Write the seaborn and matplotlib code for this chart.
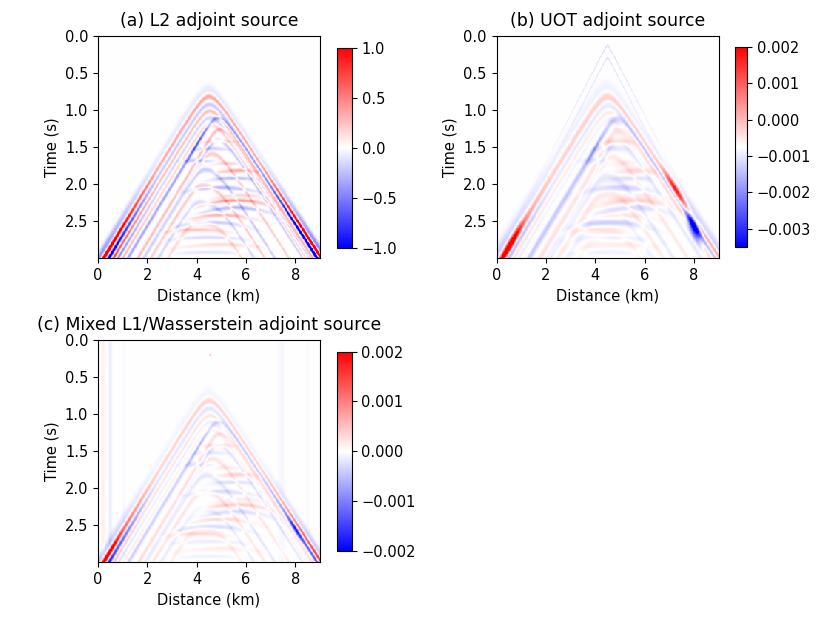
import numpy as np
import pandas as pd
import matplotlib
matplotlib.use("Agg")
import matplotlib.pyplot as plt
import seaborn as sns

# ---------------- grid (cell centres) ----------------
distance_km = np.round(np.arange(300) * 0.03 + 0.015, 3)
time_s = np.round(np.arange(300) * 0.01 + 0.005, 3)

x_ticks = [0, 2, 4, 6, 8]
t_ticks = [0.0, 0.5, 1.0, 1.5, 2.0, 2.5]
titles = ["(a) L2 adjoint source", "(b) UOT adjoint source",
          "(c) Mixed L1/Wasserstein adjoint source"]

# ---------------- first-arrival front ----------------
front_x = 4.5
front_c = 0.62
front_h = 0.20
front_v_left = 1.80
front_v_right = 1.92

# chevron events parallel to the front (shared geometry)
chev_shift = [-0.09, 0.00, 0.09, 0.17, 0.25, 0.33, 0.27, 0.42, 0.55, 0.68, 0.82, 0.98, 1.15, 1.35]
chev_width = [0.06, 0.032, 0.030, 0.025, 0.025, 0.025, 0.03, 0.03, 0.03, 0.03, 0.03, 0.03, 0.03, 0.035]
chev_dx = [0.0, 0.0, 0.0, 0.0, 0.0, 0.0, 0.35, 0.4, 0.3, 0.0, -0.3, -0.4, -0.5, -0.6]

# amplitudes near apex / at far left / at far right
a_apex = [-0.08, 0.35, -0.20, 0.25, -0.15, 0.15, -0.35, 0.25, -0.20, 0.20, -0.20, 0.20, -0.15, 0.15]
a_left = [-0.40, 1.80, -1.50, 1.00, -0.70, 0.45, -0.35, 0.30, -0.25, 0.25, -0.20, 0.20, -0.15, 0.15]
a_right = [-0.45, 1.80, -1.80, 0.25, -0.20, 0.15, -0.30, 0.20, -0.15, 0.15, -0.15, 0.15, -0.10, 0.10]

b_apex = [-0.15, 0.55, -0.25, 0.20, -0.10, 0.10, -0.60, 0.30, -0.25, 0.25, -0.25, 0.25, -0.15, 0.15]
b_left = [-0.60, 2.00, -1.20, 0.50, -0.30, 0.20, -0.60, 0.50, -0.35, 0.35, -0.25, 0.25, -0.15, 0.15]
b_right = [-0.50, 1.10, -0.40, 0.20, -0.10, 0.10, -0.40, 0.25, -0.20, 0.20, -0.15, 0.15, -0.10, 0.10]

c_apex = [-0.08, 0.35, -0.20, 0.20, -0.10, 0.10, -0.35, 0.25, -0.20, 0.20, -0.20, 0.20, -0.15, 0.15]
c_left = [-0.45, 2.20, -2.00, 0.60, -0.30, 0.20, -0.40, 0.35, -0.25, 0.25, -0.20, 0.20, -0.15, 0.15]
c_right = [-0.40, 1.60, -1.20, 0.20, -0.10, 0.10, -0.30, 0.20, -0.15, 0.15, -0.15, 0.15, -0.10, 0.10]

# strong patches that follow a chevron (shift, apex dx, x centre, x sigma, t sigma, amplitude)
a_patch_shift = [0.27]
a_patch_dx = [0.35]
a_patch_x = [4.0]
a_patch_sx = [0.35]
a_patch_st = [0.03]
a_patch_amp = [-0.35]

b_patch_shift = [0.00, 0.00, 0.13, 0.27]
b_patch_dx = [0.0, 0.0, 0.0, 0.35]
b_patch_x = [0.55, 7.25, 8.00, 3.95]
b_patch_sx = [0.45, 0.40, 0.26, 0.30]
b_patch_st = [0.09, 0.07, 0.12, 0.04]
b_patch_amp = [2.4, 2.0, -3.2, -0.6]

c_patch_shift = [0.00, 0.11, 0.27]
c_patch_dx = [0.0, 0.0, 0.35]
c_patch_x = [0.50, 8.00, 4.0]
c_patch_sx = [0.30, 0.30, 0.35]
c_patch_st = [0.06, 0.06, 0.03]
c_patch_amp = [0.8, -1.0, -0.25]

# interior reflections (shared geometry)
refl_t0 = [1.42, 1.52, 1.82, 1.92, 2.05, 2.15, 2.22, 2.32, 2.42, 2.52, 2.62, 2.72, 2.82, 2.92, 1.68, 1.72]
refl_xc = [4.9, 4.6, 5.7, 5.5, 5.0, 5.8, 5.6, 5.6, 5.0, 4.6, 4.0, 4.5, 5.0, 4.5, 4.0, 5.2]
refl_v = [3.0, 3.0, 3.0, 3.0, 3.0, 2.4, 2.4, 2.4, 2.6, 2.6, 3.2, 3.5, 3.5, 3.5, 3.0, 3.0]
refl_sx = [0.6, 0.7, 0.8, 0.9, 1.3, 1.2, 1.3, 1.3, 1.2, 1.4, 1.2, 1.5, 1.5, 1.5, 0.6, 0.5]
refl_w = 0.025
refl_amp_a = [0.20, -0.20, 0.35, -0.25, -0.30, 0.15, 0.40, -0.30, 0.30, -0.22, 0.22, -0.15, 0.15, -0.10, -0.25, 0.20]
refl_amp_b = [0.55, -0.30, 0.45, -0.35, -0.50, 0.20, 0.55, -0.40, 0.30, -0.55, 0.30, -0.25, 0.20, -0.15, -0.30, 0.25]
refl_amp_c = [0.30, -0.20, 0.35, -0.25, -0.30, 0.15, 0.40, -0.30, 0.30, -0.30, 0.25, -0.15, 0.15, -0.10, -0.25, 0.20]

# direct wave (panel b)
direct_c = 0.10
direct_h = 0.03
direct_v = 1.55
direct_shift = [0.0, 0.17]
direct_w = 0.02
direct_apex = [-0.35, -0.30]
direct_far = [-0.05, -0.05]

# panel c: faint vertical stripes and a dot
stripe_x = [0.22, 0.5, 1.05, 7.45, 8.5]
stripe_w = [0.08, 0.07, 0.05, 0.15, 0.08]
stripe_amp = [0.13, -0.16, -0.05, -0.07, -0.05]
dot_x, dot_t, dot_amp = 4.55, 0.20, 0.5

# per-panel settings
scales = [1.0, 1e-3, 1e-3]
baselines = [0.0, -0.75e-3, 0.0]
width_scale = [1.0, 1.6, 1.15]
left_stretch = [1.3, 1.5, 1.35]
vmins = [-1.0, -0.0035, -0.002]
vmaxs = [1.0, 0.002, 0.002]
cbar_ticks = [[-1.0, -0.5, 0.0, 0.5, 1.0],
              [-0.003, -0.002, -0.001, 0.0, 0.001, 0.002],
              [-0.002, -0.001, 0.0, 0.001, 0.002]]

# ---------------- build fields ----------------
T, X = np.meshgrid(time_s, distance_km, indexing="ij")


def front_time(xs, shift):
    off = np.abs(X - xs)
    v = np.where(X < xs, front_v_left, front_v_right)
    return front_c + shift + np.sqrt(front_h ** 2 + (off / v) ** 2)


t_env = front_time(front_x, 0.0)
inside = np.clip((T - t_env - 0.05) / 0.08, 0, 1)
w_left = 1.0 / (1.0 + np.exp((X - front_x) / 0.3))


def build(apex, left, right, refl_amp, wscale, lstretch, patches):
    stretch = 1 + (lstretch - 1) * w_left
    f = np.zeros_like(T)
    for k in range(len(chev_shift)):
        xs = front_x + chev_dx[k]
        tc = front_time(xs, chev_shift[k] * stretch)
        off = np.abs(X - xs)
        ramp = np.clip((off - 2.0) / 2.3, 0, 1) ** 1.5
        aside = np.where(X < xs, left[k], right[k])
        amp = apex[k] + (aside - apex[k]) * ramp
        band = amp * np.exp(-((T - tc) / (chev_width[k] * stretch * wscale)) ** 2)
        if chev_dx[k] != 0:
            band = band * inside
        f += band
    for t0, xc, vr, sx, a in zip(refl_t0, refl_xc, refl_v, refl_sx, refl_amp):
        tr = np.sqrt(t0 ** 2 + ((X - xc) / vr) ** 2)
        f += a * np.exp(-((T - tr) / (refl_w * wscale)) ** 2) * np.exp(-((X - xc) / sx) ** 2) * inside
    for ps, pdx, px, psx, pst, pa in zip(*patches):
        tp = front_time(front_x + pdx, ps * stretch)
        f += pa * np.exp(-((X - px) / psx) ** 2) * np.exp(-((T - tp) / pst) ** 2)
    return f


fields = []
fa = build(a_apex, a_left, a_right, refl_amp_a, width_scale[0], left_stretch[0],
           (a_patch_shift, a_patch_dx, a_patch_x, a_patch_sx, a_patch_st, a_patch_amp))
fields.append(fa)

fb = build(b_apex, b_left, b_right, refl_amp_b, width_scale[1], left_stretch[1],
           (b_patch_shift, b_patch_dx, b_patch_x, b_patch_sx, b_patch_st, b_patch_amp))
off_d = np.abs(X - front_x)
for s, a0, af in zip(direct_shift, direct_apex, direct_far):
    td = direct_c + s + np.sqrt(direct_h ** 2 + (off_d / direct_v) ** 2)
    amp = a0 + (af - a0) * np.clip(off_d / 2.5, 0, 1)
    fb += amp * np.exp(-((T - td) / direct_w) ** 2)
fields.append(fb)

fc = build(c_apex, c_left, c_right, refl_amp_c, width_scale[2], left_stretch[2],
           (c_patch_shift, c_patch_dx, c_patch_x, c_patch_sx, c_patch_st, c_patch_amp))
for sx_, sw, sa in zip(stripe_x, stripe_w, stripe_amp):
    fc += sa * np.exp(-((X - sx_) / sw) ** 2)
fc += dot_amp * np.exp(-((X - dot_x) / 0.04) ** 2 - ((T - dot_t) / 0.015) ** 2)
fields.append(fc)

# ---------------- figure ----------------
fig = plt.figure(figsize=(8.3, 6.23), dpi=100)
ax_pos = [[0.1181, 0.5859, 0.2675, 0.3563],
          [0.5982, 0.5859, 0.2675, 0.3563],
          [0.1181, 0.0979, 0.2675, 0.3563]]
cb_pos = [[0.4060, 0.6027, 0.0181, 0.3210],
          [0.8855, 0.6035, 0.0145, 0.3210],
          [0.4060, 0.1160, 0.0175, 0.3194]]

dx = distance_km[1] - distance_km[0]
dt = time_s[1] - time_s[0]
for i in range(3):
    ax = fig.add_axes(ax_pos[i])
    cax = fig.add_axes(cb_pos[i])
    data = baselines[i] + scales[i] * fields[i]
    df = pd.DataFrame(data, index=time_s, columns=distance_km)
    sns.heatmap(df, ax=ax, cbar_ax=cax, cmap="bwr", vmin=vmins[i], vmax=vmaxs[i],
                xticklabels=False, yticklabels=False, rasterized=True)
    ax.set_xticks([(x - distance_km[0]) / dx + 0.5 for x in x_ticks])
    ax.set_xticklabels([f"{x:d}" for x in x_ticks], rotation=0)
    ax.set_yticks([(t - time_s[0]) / dt + 0.5 for t in t_ticks])
    ax.set_yticklabels([f"{t:.1f}" for t in t_ticks], rotation=0)
    for sp in ax.spines.values():
        sp.set_visible(True)
        sp.set_linewidth(0.8)
        sp.set_color("black")
    ax.tick_params(direction="out", length=3.5, width=0.8, labelsize=10.5)
    ax.set_xlabel("Distance (km)", fontsize=10.5)
    ax.set_ylabel("Time (s)", fontsize=10.5)
    ax.set_title(titles[i], fontsize=12.4, pad=7.5)
    cb = ax.collections[0].colorbar
    cb.outline.set_visible(True)
    cb.outline.set_linewidth(0.8)
    cb.set_ticks(cbar_ticks[i])
    cb.ax.tick_params(labelsize=10.5, length=3.5, width=0.8)

fig.savefig("out.png", dpi=100)
